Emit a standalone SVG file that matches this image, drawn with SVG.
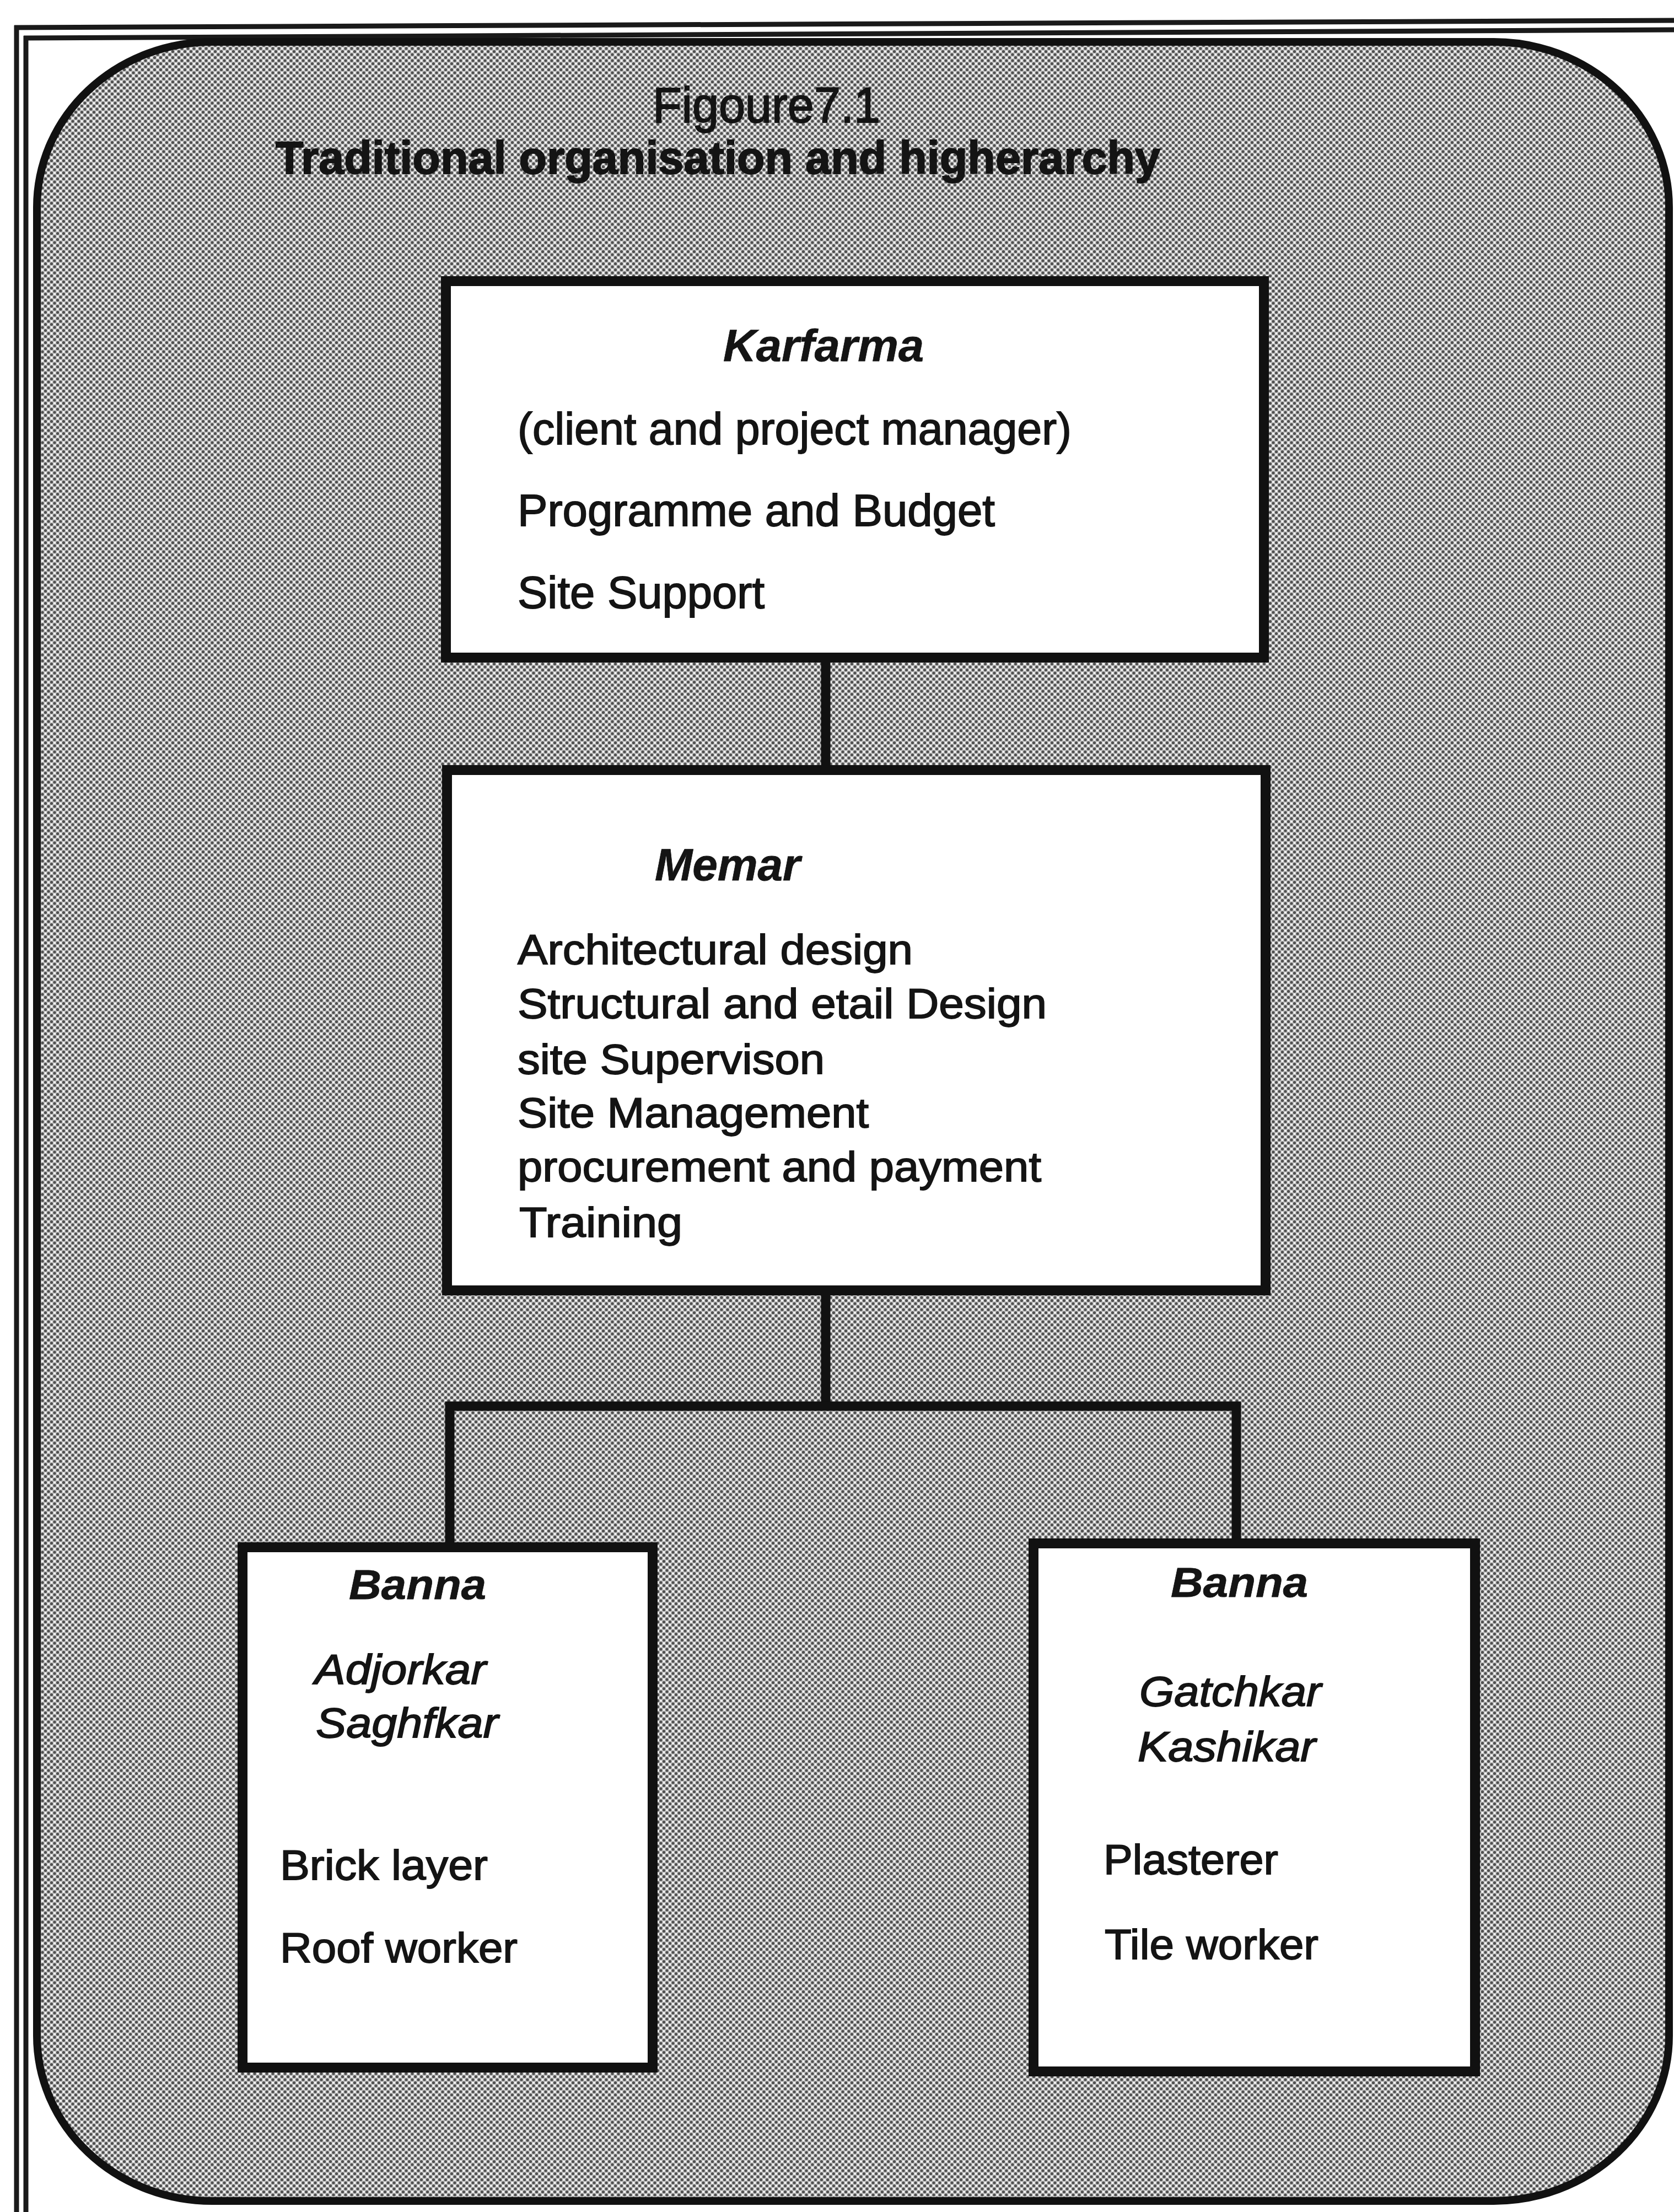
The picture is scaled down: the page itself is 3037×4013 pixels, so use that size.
<svg xmlns="http://www.w3.org/2000/svg" width="3037" height="4013" viewBox="0 0 3037 4013">
<defs>
<pattern id="dots" x="0" y="0" width="11" height="11" patternUnits="userSpaceOnUse">
<rect width="11" height="11" fill="#bdbdbd"/>
<circle cx="0" cy="0" r="2.6" fill="#505050"/>
<circle cx="11" cy="0" r="2.6" fill="#505050"/>
<circle cx="0" cy="11" r="2.6" fill="#505050"/>
<circle cx="11" cy="11" r="2.6" fill="#505050"/>
<circle cx="5.5" cy="5.5" r="2.6" fill="#505050"/>
<circle cx="5.5" cy="0" r="2.1" fill="#f4f4f4"/>
<circle cx="0" cy="5.5" r="2.1" fill="#f4f4f4"/>
<circle cx="11" cy="5.5" r="2.1" fill="#f4f4f4"/>
<circle cx="5.5" cy="11" r="2.1" fill="#f4f4f4"/>
</pattern>
</defs>
<style>
text{font-family:"Liberation Sans",Arial,Helvetica,sans-serif;fill:#141414;stroke:#141414;stroke-width:1.8}
.box{fill:#ffffff;stroke:#111;stroke-width:18}
.conn{fill:none;stroke:#111;stroke-width:17;stroke-linecap:butt;stroke-linejoin:miter}
.frame{stroke:#1a1a1a;stroke-width:9;fill:none}
.hd{font-weight:bold;font-style:italic;stroke-width:0.8}
.it{font-style:italic}
.t1{font-size:82px}
.t2{font-size:76px}
</style>
<rect width="3037" height="4013" fill="#ffffff"/>
<g id="background">
<line class="frame" x1="26" y1="50" x2="3037" y2="37"/>
<line class="frame" x1="43" y1="69" x2="3037" y2="54"/>
<line class="frame" x1="30" y1="46" x2="30" y2="4013"/>
<line class="frame" x1="47" y1="65" x2="47" y2="4013"/>
<rect x="67" y="76" width="2961" height="3917" rx="318" ry="300" fill="url(#dots)" stroke="#111" stroke-width="14"/>
</g>
<g id="title">
<text x="1184" y="222" font-size="90" textLength="413" lengthAdjust="spacingAndGlyphs">Figoure7.1</text>
<text x="500" y="315" font-size="83" font-weight="bold" textLength="1605" lengthAdjust="spacingAndGlyphs">Traditional organisation and higherarchy</text>
</g>
<g id="connectors">
<path class="conn" d="M1498 1193 V1397"/>
<path class="conn" d="M1498 2341 V2551"/>
<path class="conn" d="M816 2807 V2551 H2243 V2800"/>
</g>
<g id="node-karfarma">
<rect class="box" x="809" y="510" width="1484" height="683"/>
<text class="hd t1" x="1312" y="655" textLength="364" lengthAdjust="spacingAndGlyphs">Karfarma</text>
<text class="t1" x="939" y="806" textLength="1005" lengthAdjust="spacingAndGlyphs">(client and project manager)</text>
<text class="t1" x="939" y="954" textLength="866" lengthAdjust="spacingAndGlyphs">Programme and Budget</text>
<text class="t1" x="939" y="1103" textLength="448" lengthAdjust="spacingAndGlyphs">Site Support</text>
</g>
<g id="node-memar">
<rect class="box" x="811" y="1397" width="1485" height="944"/>
<text class="hd t1" x="1188" y="1597" textLength="264" lengthAdjust="spacingAndGlyphs">Memar</text>
<text class="t2" x="939" y="1749" textLength="717" lengthAdjust="spacingAndGlyphs">Architectural design</text>
<text class="t2" x="939" y="1847" textLength="960" lengthAdjust="spacingAndGlyphs">Structural and etail Design</text>
<text class="t2" x="939" y="1948" textLength="557" lengthAdjust="spacingAndGlyphs">site Supervison</text>
<text class="t2" x="939" y="2045" textLength="637" lengthAdjust="spacingAndGlyphs">Site Management</text>
<text class="t2" x="939" y="2143" textLength="950" lengthAdjust="spacingAndGlyphs">procurement and payment</text>
<text class="t2" x="942" y="2244" textLength="296" lengthAdjust="spacingAndGlyphs">Training</text>
</g>
<g id="node-banna-left">
<rect class="box" x="440" y="2807" width="744" height="944"/>
<text class="hd t2" x="633" y="2901" textLength="249" lengthAdjust="spacingAndGlyphs">Banna</text>
<text class="it t2" x="571" y="3055" textLength="311" lengthAdjust="spacingAndGlyphs">Adjorkar</text>
<text class="it t2" x="573" y="3152" textLength="331" lengthAdjust="spacingAndGlyphs">Saghfkar</text>
<text class="t2" x="508" y="3410" textLength="377" lengthAdjust="spacingAndGlyphs">Brick layer</text>
<text class="t2" x="508" y="3560" textLength="431" lengthAdjust="spacingAndGlyphs">Roof worker</text>
</g>
<g id="node-banna-right">
<rect class="box" x="1875" y="2800" width="801" height="958"/>
<text class="hd t2" x="2124" y="2897" textLength="249" lengthAdjust="spacingAndGlyphs">Banna</text>
<text class="it t2" x="2067" y="3095" textLength="330" lengthAdjust="spacingAndGlyphs">Gatchkar</text>
<text class="it t2" x="2064" y="3195" textLength="323" lengthAdjust="spacingAndGlyphs">Kashikar</text>
<text class="t2" x="2002" y="3400" textLength="317" lengthAdjust="spacingAndGlyphs">Plasterer</text>
<text class="t2" x="2004" y="3554" textLength="388" lengthAdjust="spacingAndGlyphs">Tile worker</text>
</g>
</svg>
